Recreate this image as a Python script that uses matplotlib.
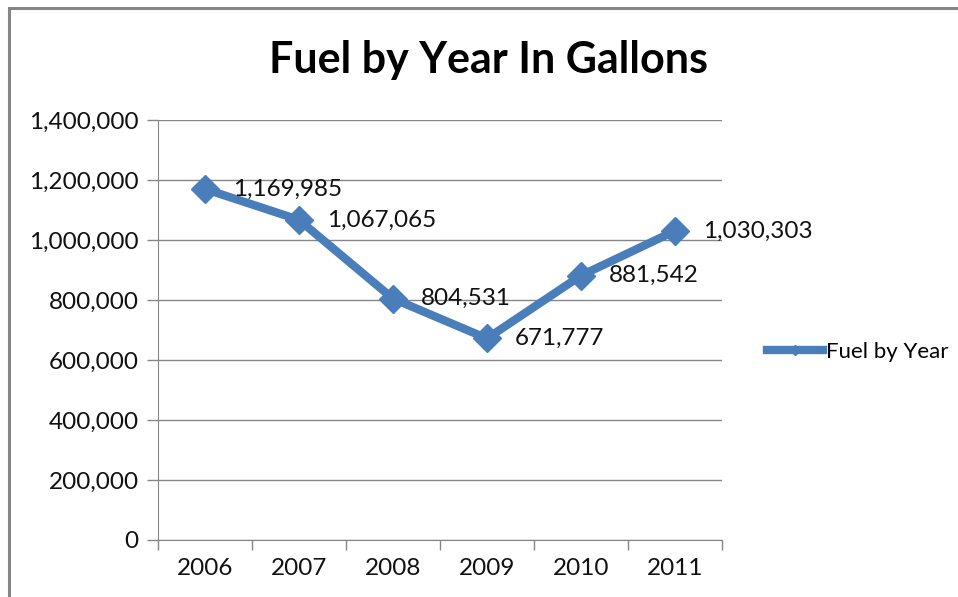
import matplotlib.pyplot as plt
from matplotlib.patches import Rectangle
from matplotlib.ticker import FuncFormatter

years = ['2006', '2007', '2008', '2009', '2010', '2011']
gallons = [1169985, 1067065, 804531, 671777, 881542, 1030303]

W, H = 958, 597
plt.rcParams['font.family'] = ['Lato', 'DejaVu Sans']
fig = plt.figure(figsize=(W / 100, H / 100), dpi=100)

# outer chart frame (runs off right/bottom edge like the screenshot)
fig.patches.append(Rectangle((9 / W, -0.05), 1.2, 1 - 8 / H + 0.05, transform=fig.transFigure,
                             fill=False, edgecolor='#868686', linewidth=2.2))

ax = fig.add_axes([158 / W, 1 - 540 / H, (722 - 158) / W, (540 - 120) / H])
blue = '#4A7EBB'
x = list(range(len(years)))
ax.plot(x, gallons, color=blue, linewidth=6, marker='D', markersize=14,
        label='Fuel by Year', solid_joinstyle='miter')

for xi, v in zip(x, gallons):
    ax.annotate(f'{v:,}', (xi, v), xytext=(28, 0), textcoords='offset pixels',
                va='center', ha='left', fontsize=17.5, color='#111111')

ax.set_xlim(-0.5, len(years) - 0.5)
ax.set_ylim(0, 1400000)
ax.set_yticks(range(0, 1400001, 200000))
ax.yaxis.set_major_formatter(FuncFormatter(lambda v, p: f'{int(v):,}'))
ax.set_xticks(x)
ax.set_xticklabels(years)
ax.set_xticks([i - 0.5 for i in range(len(years) + 1)], minor=True)
ax.tick_params(axis='x', which='major', length=0, pad=13, labelsize=17.5)
ax.tick_params(axis='x', which='minor', length=7, color='#868686', width=1)
ax.tick_params(axis='y', length=8, color='#868686', width=1, pad=6, labelsize=17.5)
for lbl in ax.get_xticklabels() + ax.get_yticklabels():
    lbl.set_color('#111111')

ax.grid(axis='y', color='#868686', linewidth=1)
ax.set_axisbelow(True)
for side in ['top', 'right']:
    ax.spines[side].set_visible(False)
for side in ['left', 'bottom']:
    ax.spines[side].set_color('#868686')

fig.text(488 / W, 1 - 60 / H, 'Fuel by Year In Gallons', ha='center', va='center',
         fontsize=31, fontweight='bold')

leg = ax.legend(loc='center left', bbox_to_anchor=(767 / W, 1 - 352 / H),
                bbox_transform=fig.transFigure, frameon=False, fontsize=16,
                handlelength=2.5, handletextpad=0.15, markerscale=0.35,
                borderaxespad=0, borderpad=0)

fig.savefig('out.png', dpi=100)
